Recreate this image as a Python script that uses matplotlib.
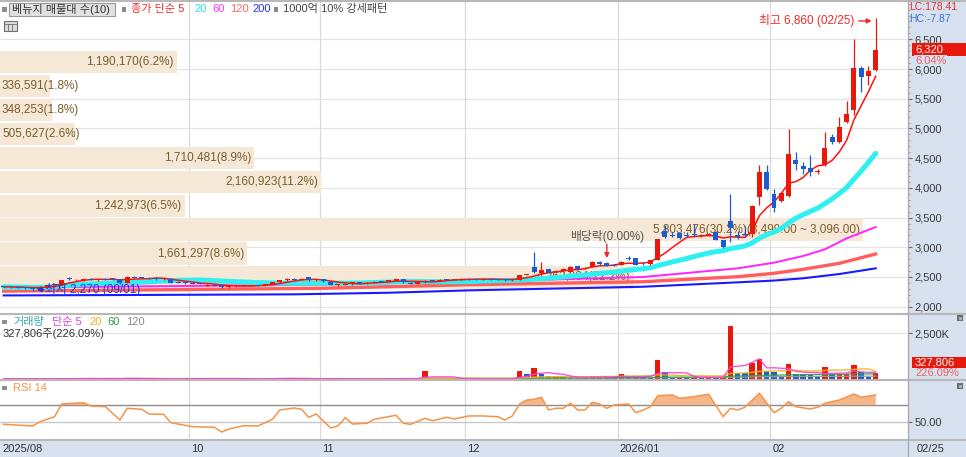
import numpy as np
import pandas as pd
import matplotlib
matplotlib.use("Agg")
import matplotlib.pyplot as plt
import matplotlib.transforms as mtransforms
from matplotlib.patches import Rectangle
from matplotlib.lines import Line2D
from matplotlib.ticker import MultipleLocator, FuncFormatter

plt.rcParams['font.family'] = ['Liberation Sans', 'Noto Sans CJK KR', 'DejaVu Sans']
plt.rcParams['axes.unicode_minus'] = False

# ---------------- data ----------------
opens = [2345, 2335, 2330, 2325, 2318, 2300, 2335, 2365, 2375, 2485,
         2445, 2455, 2460, 2455, 2465, 2480, 2465, 2400, 2500, 2490,
         2485, 2480, 2463, 2470, 2415, 2407, 2400, 2393, 2360, 2367,
         2370, 2330, 2345, 2353, 2355, 2360, 2355, 2380, 2410, 2450,
         2465, 2460, 2495, 2445, 2460, 2420, 2365, 2373, 2375, 2410,
         2395, 2405, 2425, 2420, 2435, 2460, 2405, 2390, 2410, 2440,
         2435, 2460, 2455, 2460, 2470, 2465, 2460, 2465, 2460, 2455,
         2445, 2450, 2535, 2673, 2560, 2629, 2585, 2600, 2589, 2690,
         2640, 2670, 2757, 2740, 2705, 2700, 2814, 2814, 2725, 2715,
         2786, 3279, 3206, 3235, 3205, 3220, 3195, 3205, 3262, 3122,
         3447, 3200, 3220, 3220, 3851, 4272, 3896, 3784, 3863, 4469,
         4368, 4329, 4270, 4385, 4851, 4777, 5113, 5310, 6012, 5882,
         5990]
highs = [2352, 2345, 2342, 2338, 2332, 2345, 2372, 2385, 2455, 2505,
         2470, 2470, 2475, 2470, 2480, 2485, 2470, 2515, 2510, 2505,
         2495, 2485, 2480, 2475, 2425, 2420, 2410, 2405, 2390, 2375,
         2375, 2350, 2360, 2365, 2370, 2370, 2385, 2415, 2455, 2475,
         2480, 2475, 2505, 2465, 2470, 2425, 2380, 2390, 2415, 2415,
         2410, 2425, 2440, 2455, 2465, 2465, 2415, 2415, 2455, 2450,
         2460, 2470, 2465, 2475, 2480, 2475, 2473, 2475, 2470, 2465,
         2460, 2540, 2555, 2925, 2757, 2640, 2615, 2650, 2690, 2700,
         2660, 2770, 2770, 2750, 2715, 2770, 2850, 2820, 2745, 2790,
         3140, 3375, 3250, 3240, 3250, 3400, 3220, 3235, 3270, 3130,
         3905, 3270, 3350, 3720, 4380, 4380, 3975, 3930, 4990, 4600,
         4440, 4560, 4310, 4945, 4910, 5187, 5467, 6500, 6056, 6056,
         6860]
lows = [2325, 2318, 2315, 2305, 2270, 2295, 2325, 2355, 2370, 2445,
        2435, 2440, 2445, 2440, 2450, 2455, 2390, 2395, 2480, 2475,
        2470, 2455, 2455, 2395, 2395, 2390, 2380, 2375, 2355, 2350,
        2320, 2320, 2335, 2340, 2345, 2345, 2350, 2375, 2405, 2440,
        2450, 2445, 2440, 2440, 2415, 2360, 2350, 2365, 2370, 2385,
        2390, 2400, 2410, 2415, 2430, 2405, 2380, 2385, 2405, 2425,
        2430, 2445, 2445, 2455, 2455, 2455, 2450, 2455, 2445, 2440,
        2440, 2445, 2530, 2575, 2555, 2570, 2575, 2590, 2585, 2625,
        2630, 2660, 2710, 2680, 2685, 2695, 2780, 2700, 2700, 2710,
        2780, 3160, 3165, 3145, 3165, 3180, 3180, 3190, 3115, 2995,
        3094, 3140, 3170, 3180, 3711, 3970, 3598, 3765, 3845, 4300,
        4230, 4200, 4230, 4365, 4730, 4755, 5100, 5226, 5618, 5731,
        5972]
closes = [2335, 2330, 2325, 2318, 2300, 2335, 2365, 2375, 2445, 2475,
          2455, 2460, 2455, 2465, 2460, 2470, 2400, 2500, 2490, 2485,
          2478, 2470, 2470, 2405, 2407, 2400, 2393, 2390, 2367, 2360,
          2325, 2345, 2353, 2355, 2360, 2355, 2380, 2410, 2450, 2465,
          2460, 2465, 2445, 2460, 2425, 2365, 2373, 2385, 2410, 2395,
          2405, 2415, 2420, 2450, 2460, 2410, 2390, 2410, 2440, 2435,
          2455, 2455, 2460, 2470, 2465, 2460, 2465, 2460, 2455, 2450,
          2455, 2535, 2545, 2589, 2617, 2575, 2605, 2629, 2673, 2640,
          2650, 2757, 2720, 2685, 2695, 2757, 2800, 2710, 2715, 2780,
          3134, 3165, 3185, 3155, 3195, 3205, 3212, 3225, 3122, 3009,
          3319, 3178, 3206, 3694, 4272, 3975, 3656, 3918, 4570, 4405,
          4312, 4272, 4289, 4665, 4777, 5029, 5243, 6012, 5860, 5960,
          6320]
volumes = [30000, 22000, 28000, 20000, 40000, 30000, 28000, 20000, 70000, 40000,
           30000, 60000, 50000, 30000, 60000, 30000, 40000, 80000, 50000, 30000,
           28000, 20000, 30000, 32000, 20000, 60000, 30000, 20000, 60000, 40000,
           50000, 30000, 28000, 20000, 30000, 20000, 60000, 40000, 70000, 50000,
           40000, 30000, 28000, 20000, 30000, 60000, 30000, 20000, 30000, 20000,
           28000, 20000, 30000, 60000, 30000, 60000, 30000, 40000, 450000, 80000,
           50000, 40000, 30000, 28000, 40000, 30000, 20000, 30000, 28000, 20000,
           30000, 450000, 270000, 600000, 310000, 160000, 170000, 140000, 100000, 95000,
           90000, 200000, 140000, 120000, 100000, 270000, 120000, 140000, 130000, 120000,
           1030000, 400000, 80000, 140000, 70000, 120000, 100000, 120000, 70000, 120000,
           2880000, 340000, 330000, 900000, 1070000, 430000, 380000, 200000, 850000, 270000,
           260000, 250000, 180000, 670000, 270000, 280000, 290000, 760000, 400000, 145000,
           327806]

ma60_idx = [0, 20, 44, 64, 88, 101, 106, 110, 113, 116, 120]
ma60_val = [2320, 2343, 2373, 2421, 2500, 2646, 2741, 2853, 2965, 3150, 3341]
ma120_idx = [0, 22, 44, 64, 88, 101, 106, 110, 115, 120]
ma120_val = [2262, 2285, 2310, 2370, 2420, 2505, 2562, 2629, 2730, 2887]
ma200_idx = [0, 20, 40, 53, 64, 88, 101, 106, 110, 115, 120]
ma200_val = [2190, 2198, 2208, 2235, 2275, 2336, 2410, 2440, 2478, 2550, 2646]

# RSI(14)
rsi_idx = [0, 4, 5, 7, 8, 11, 12, 14, 16, 17, 19, 20, 22, 23, 26, 29, 30, 31, 33, 35,
           37, 38, 40, 41, 42, 43, 45, 46, 47, 48, 50, 51, 54, 55, 56, 58, 59, 61, 62, 64,
           66, 68, 69, 70, 71, 72, 73, 74, 75, 76, 77, 78, 79, 80, 81, 82, 83, 84, 86, 87,
           88, 89, 90, 92, 93, 95, 97, 99, 100, 101, 102, 104, 106, 107, 108, 109, 111, 112,
           113, 115, 117, 118, 120]
rsi_val = [47.3, 45.3, 50.4, 56.2, 71.2, 72.7, 68.8, 68.0, 52.4, 66.1, 64.9, 59.4, 59.1,
           49.2, 44.5, 43.8, 38.2, 41.8, 45.6, 45.3, 53.2, 64.1, 66.5, 64.9, 55.5, 59.4,
           42.9, 45.3, 55.1, 47.6, 48.5, 53.2, 57.9, 48.5, 47.3, 54.4, 51.5, 55.5, 53.5,
           57.1, 57.1, 56.2, 52.4, 57.1, 71.2, 75.9, 76.7, 79.1, 64.1, 66.1, 66.1, 72.0,
           64.1, 64.1, 73.2, 71.2, 66.1, 70.0, 71.2, 60.9, 64.1, 68.0, 80.9, 81.8, 77.9,
           79.8, 82.6, 56.2, 66.1, 64.1, 67.3, 83.8, 60.9, 66.1, 73.9, 68.0, 65.3, 67.3,
           72.0, 75.9, 82.9, 79.1, 81.8]
rsi_upper = 70
rsi_mid = 50

# volume-by-price profile (top band first)
vp_bottoms = [5917, 5514, 5111, 4708, 4305, 3902, 3499, 3096, 2693, 2290]
vp_step = 403
vp_vol = [1190170, 336591, 348253, 505627, 1710481, 2160923, 1242973, 5803476, 1661297, 4262804]
vp_pct = [6.2, 1.8, 1.8, 2.6, 8.9, 11.2, 6.5, 30.2, 8.6, 22.2]

month_idx = [0, 26, 44, 64, 85, 106]
month_labels = ['2025/08', '10', '11', '12', '2026/01', '02']
last_date_label = '02/25'
price_ticks = [2000, 2500, 3000, 3500, 4000, 4500, 5000, 5500, 6000, 6500]

hi_idx, hi_val, hi_label = 120, 6860, '최고 6,860 (02/25)'
lo_idx, lo_val, lo_label = 4, 2270, '최저 2,270 (09/01)'
div_idx, div_label = 83, '배당락(0.00%)'
last_close, last_chg = 6320, 6.04
last_vol, vol_chg = 327806, 226.09
lc_val, hc_val = 178.41, -7.87

# ---------------- layout ----------------
W, H = 966, 457
PW = 907.7
BG = '#d7e1ef'
UP = '#e8180c'
DN = '#1c5ccf'
GRID = '#e4e4e4'
VGRID = '#d9d9d9'

fig = plt.figure(figsize=(W / 100, H / 100), dpi=100)
fig.patch.set_facecolor('white')


def frect(x0, y0, x1, y1):
    return [x0 / W, 1 - y1 / H, (x1 - x0) / W, (y1 - y0) / H]


def fx(x):
    return x / W


def fy(y):
    return 1 - y / H


def frect_patch(x0, y0, x1, y1, fc, ec='none', lw=0, z=-1):
    fig.add_artist(Rectangle((fx(x0), fy(y1)), (x1 - x0) / W, (y1 - y0) / H,
                             transform=fig.transFigure, facecolor=fc, edgecolor=ec,
                             linewidth=lw, zorder=z))


def ftext(x, y, s, **kw):
    kw.setdefault('va', 'center')
    kw.setdefault('ha', 'left')
    kw.setdefault('fontsize', 8)
    return fig.text(fx(x), fy(y), s, **kw)


# backgrounds for axis strips
frect_patch(PW, 0, W, H, BG)
frect_patch(0, 440, W, H, BG)

ax_prof = fig.add_axes(frect(0, 2, PW, 313), label='profile')
ax = fig.add_axes(frect(0, 2, PW, 313), label='price')
ax_vol = fig.add_axes(frect(0, 314.5, PW, 379.5), label='volume')
ax_rsi = fig.add_axes(frect(0, 381, PW, 439), label='rsi')

ax_prof.set_zorder(1)
ax.set_zorder(2)
ax.patch.set_alpha(0)

n = len(closes)
x = np.arange(n)
XL = (-0.5, 124.4)
YL = (1894, 7128)

for a in (ax_prof, ax, ax_vol, ax_rsi):
    for s in a.spines.values():
        s.set_visible(False)
    a.set_xticks([])
for a in (ax, ax_vol, ax_rsi):
    a.set_xlim(*XL)
ax.set_ylim(*YL)
ax_prof.set_ylim(*YL)
ax_prof.set_xlim(0, max(vp_vol) / 0.9504)
ax_prof.set_yticks([])

# ---- grid (on the profile axes so bands cover it) ----
for p in price_ticks:
    ax_prof.axhline(p, color=GRID, lw=0.9, zorder=0)
xtr_main = ax.get_xaxis_transform()
for m in month_idx[1:]:
    ax_prof.add_artist(Line2D([m - 0.5, m - 0.5], [0, 1], transform=xtr_main,
                              color=VGRID, lw=0.9, zorder=0))
    ax_vol.axvline(m - 0.5, color=VGRID, lw=0.9, zorder=0)
    ax_rsi.axvline(m - 0.5, color=VGRID, lw=0.9, zorder=0)

# ---- volume profile bands ----
lab_tr = mtransforms.offset_copy(ax_prof.transData, fig=fig, x=-3, y=0, units='dots')
left_tr = mtransforms.offset_copy(ax_prof.transData, fig=fig, x=2, y=0, units='dots')
vmax = max(vp_vol)
vp_texts = []
for b, v, pc in zip(vp_bottoms, vp_vol, vp_pct):
    yc = b + vp_step / 2
    ax_prof.barh(yc, v, height=vp_step * 0.93, left=0, color='#f5e8d6', zorder=1)
    s = f'{v:,}({pc:.1f}%)'
    if v == vmax:
        s += f'({b + vp_step:,.2f} ~ {b:,.2f})'
    t = ax_prof.text(v, yc, s, transform=lab_tr, ha='right', va='center',
                     fontsize=8.5, color='#7d5d2c', zorder=2)
    vp_texts.append((t, yc))

# labels that do not fit inside their band start from the left edge
fig.canvas.draw()
renderer = fig.canvas.get_renderer()
for t, yc in vp_texts:
    bb = t.get_window_extent(renderer)
    if bb.x0 < 2:
        t.set_transform(left_tr)
        t.set_position((0, yc))
        t.set_ha('left')

# ---- moving averages ----
cs = pd.Series(closes, dtype=float)
ma5 = cs.rolling(5, min_periods=1).mean()
ma20 = cs.rolling(20, min_periods=1).mean()
ax.plot(ma200_idx, ma200_val, color='#1a1aff', lw=1.5, zorder=2)
ax.plot(ma120_idx, ma120_val, color='#ff5e5e', lw=2.4, zorder=2)
ax.plot(ma60_idx, ma60_val, color='#ff24ff', lw=1.4, zorder=2)
ax.plot(x, ma20, color='#2ff0f0', lw=3.6, zorder=3, solid_capstyle='round')
ax.plot(x, ma5, color='#ff1010', lw=1.1, zorder=3.5)

# ---- candles ----
o = np.array(opens, float)
h = np.array(highs, float)
l = np.array(lows, float)
c = np.array(closes, float)
ccol = np.where(c > o, UP, DN)
ax.vlines(x, l, h, colors=ccol, lw=0.9, zorder=4)
body = np.maximum(np.abs(c - o), 14)
bot = (o + c) / 2 - body / 2
ax.bar(x, body, bottom=bot, width=0.68, color=ccol, linewidth=0, zorder=5)

# ---- price axis ----
ax.yaxis.tick_right()
ax.set_yticks(price_ticks)
ax.yaxis.set_major_formatter(FuncFormatter(lambda v, p: f'{v:,.0f}'))
ax.yaxis.set_minor_locator(MultipleLocator(100))
ax.tick_params(axis='y', which='major', length=3, width=0.8, color='#666666', pad=2,
               labelsize=8, labelcolor='#3a3a3a', direction='out')
ax.tick_params(axis='y', which='minor', length=1.5, width=0.6, color='#8a8a8a', direction='out')

# ---- annotations on price panel ----
RED_T = '#ee2b2b'
ax.annotate(hi_label, xy=(hi_idx, hi_val), xytext=(-21, -3), textcoords='offset pixels',
            ha='right', va='center', color=RED_T, fontsize=8.5, zorder=8)
ax.annotate('', xy=(hi_idx, hi_val),
            xycoords=mtransforms.offset_copy(ax.transData, fig=fig, x=-4, y=-3, units='dots'),
            xytext=(-13, 0), textcoords='offset pixels',
            arrowprops=dict(arrowstyle='-|>', color=RED_T, lw=1.0, mutation_scale=7,
                            shrinkA=0, shrinkB=0), zorder=8)
ax.annotate(div_label, xy=(div_idx, highs[div_idx]), xytext=(0, 26), textcoords='offset pixels',
            ha='center', va='center', color='#555555', fontsize=8.5, zorder=8)
ax.annotate('', xy=(div_idx, highs[div_idx]),
            xycoords=mtransforms.offset_copy(ax.transData, fig=fig, x=0, y=4, units='dots'),
            xytext=(0, 14), textcoords='offset pixels',
            arrowprops=dict(arrowstyle='-|>', color=RED_T, lw=1.0, mutation_scale=7,
                            shrinkA=0, shrinkB=0), zorder=8)
BLUE_T = '#2233dd'
ax.annotate(lo_label, xy=(lo_idx, lo_val), xytext=(12, 1), textcoords='offset pixels',
            ha='left', va='center', color=BLUE_T, fontsize=8.5, zorder=8)
ax.annotate('', xy=(lo_idx, lo_val),
            xycoords=mtransforms.offset_copy(ax.transData, fig=fig, x=4, y=1, units='dots'),
            xytext=(7, 0), textcoords='offset pixels',
            arrowprops=dict(arrowstyle='-|>', color=BLUE_T, lw=1.0, mutation_scale=7,
                            shrinkA=0, shrinkB=0), zorder=8)

# ---- volume panel ----
vcol = [UP] + [UP if volumes[i] >= volumes[i - 1] else DN for i in range(1, n)]
ax_vol.set_ylim(-11000, 3.5e6)
ax_vol.axhline(2.5e6, color=GRID, lw=0.9, zorder=0)
ax_vol.bar(x, volumes, width=0.75, color=vcol, linewidth=0, zorder=3)
vs = pd.Series(volumes, dtype=float)
for win, col in [(120, '#9a9a9a'), (60, '#2ea84e'), (20, '#f2b21c'), (5, '#ff3fd8')]:
    ax_vol.plot(x, vs.rolling(win, min_periods=1).mean(), color=col, lw=0.9, zorder=4)
ax_vol.yaxis.tick_right()
ax_vol.set_yticks([2.5e6])
ax_vol.set_yticklabels(['2,500K'])
ax_vol.tick_params(axis='y', length=3, width=0.8, color='#666666', pad=2,
                   labelsize=8, labelcolor='#3a3a3a')

# ---- RSI panel ----
ax_rsi.set_ylim(30, 98.2)
ax_rsi.axhline(rsi_upper, color='#8e8e8e', lw=1.0, zorder=1)
ax_rsi.axhline(rsi_mid, color='#c8c8c8', lw=1.0, zorder=1)
rv = np.array(rsi_val)
ax_rsi.fill_between(rsi_idx, rsi_upper, rv, where=rv > rsi_upper, interpolate=True,
                    color='#f7b68a', lw=0, zorder=2)
ax_rsi.plot(rsi_idx, rsi_val, color='#f5934a', lw=1.1, zorder=3)
ax_rsi.yaxis.tick_right()
ax_rsi.set_yticks([rsi_mid])
ax_rsi.set_yticklabels([f'{rsi_mid:.2f}'])
ax_rsi.tick_params(axis='y', length=3, width=0.8, color='#666666', pad=2,
                   labelsize=8, labelcolor='#3a3a3a')

# ---- date labels ----
dtr = mtransforms.offset_copy(
    mtransforms.blended_transform_factory(ax_rsi.transData, fig.transFigure),
    fig=fig, x=2, y=0, units='dots')
for m, lab in zip(month_idx, month_labels):
    ax_rsi.text(m - 0.5, fy(449), lab, transform=dtr, ha='left', va='center',
                fontsize=8, color='#333333', clip_on=False)
ftext(917, 449, last_date_label, color='#333333')

# ---- separators ----
def hsep(y, lw=1.5, col='#b8b8b8'):
    fig.add_artist(Line2D([0, 1], [fy(y), fy(y)], transform=fig.transFigure,
                          color=col, lw=lw, zorder=6))


hsep(0.7)
hsep(313.8)
hsep(380.2)
hsep(439.8)
fig.add_artist(Line2D([fx(PW), fx(PW)], [0, 1], transform=fig.transFigure,
                      color='#a8a8a8', lw=0.9, zorder=6))

# ---- legends ----
def sq(xc, yc, s=4.5, col='#8c8c8c'):
    frect_patch(xc - s / 2, yc - s / 2, xc + s / 2, yc + s / 2, col, z=7)


sq(4.7, 9.3)
frect_patch(9, 2.7, 115, 15.5, '#e1e1e1', ec='#9a9a9a', lw=0.8, z=7)
ftext(12, 9.3, '베뉴지 매물대 수(10)', color='#333333', zorder=8)
sq(124, 9.3)
ftext(131, 9.3, '종가 단순 5', color='#f03030', zorder=8)
ftext(194, 9.3, '20', color='#2fe0e0', zorder=8)
ftext(212, 9.3, '60', color='#ff30ff', zorder=8)
ftext(230, 9.3, '120', color='#ff6a6a', zorder=8)
ftext(252, 9.3, '200', color='#2a2aff', zorder=8)
sq(276, 9.3)
ftext(283, 9.3, '1000억 10% 강세패턴', color='#444444', zorder=8)
# small table icon
frect_patch(4, 21, 16.5, 30.5, '#dcdcdc', ec='#707070', lw=0.8, z=7)
for xx in (8.2, 12.3):
    fig.add_artist(Line2D([fx(xx), fx(xx)], [fy(23.5), fy(30.5)], transform=fig.transFigure,
                          color='#707070', lw=0.6, zorder=8))
fig.add_artist(Line2D([fx(4), fx(16.5)], [fy(23.5), fy(23.5)], transform=fig.transFigure,
                      color='#707070', lw=0.6, zorder=8))

sq(4.7, 322)
ftext(13, 322, '거래량', color='#3aa6a6', zorder=8)
ftext(52, 322, '단순 5', color='#e23fe0', zorder=8)
ftext(89, 322, '20', color='#f0b020', zorder=8)
ftext(107, 322, '60', color='#2a9a48', zorder=8)
ftext(126, 322, '120', color='#8a8a8a', zorder=8)
ftext(3, 334, f'{last_vol:,}주({vol_chg:.2f}%)', color='#333333', zorder=8)

sq(4.7, 388)
ftext(13, 388, 'RSI 14', color='#f5934a', zorder=8)

# ---- right strip extras ----
ftext(909, 7.5, f'LC:{lc_val:.2f}', color='#e83030', fontsize=7.5, zorder=8)
ftext(909, 19.5, f'HC:{hc_val:.2f}', color='#3a6fd6', fontsize=7.5, zorder=8)
frect_patch(912, 43, W, 55.5, UP, z=7)
ftext(915, 49.3, f'{last_close:,}', color='white', zorder=8)
ftext(915, 60.5, f'{last_chg:.2f}%', color='#f06060', zorder=8,
      bbox=dict(facecolor=BG, edgecolor='none', pad=0.6))
frect_patch(912, 357, W, 367.5, UP, z=7)
ftext(915, 362.3, f'{last_vol:,}', color='white', zorder=8)
ftext(915, 373, f'{vol_chg:.2f}%', color='#f06060', zorder=8)
for yy in (318, 386):
    frect_patch(957, yy - 3, 963, yy + 3, '#6a6a6a', z=7)
    frect_patch(958.5, yy - 1.5, 961.5, yy + 1.5, '#b0b0b0', z=8)

fig.savefig('out.png', dpi=100)
